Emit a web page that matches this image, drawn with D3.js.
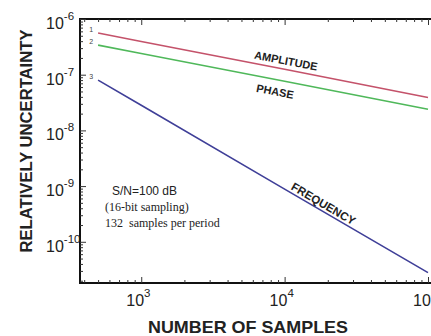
<!DOCTYPE html>
<html>
<head>
<meta charset="utf-8">
<script src="https://cdn.jsdelivr.net/npm/d3@7"></script>
<style>
  body { margin: 0; background: #fff; }
  svg { display: block; }
</style>
</head>
<body>
<svg id="chart" width="431" height="336"></svg>
<script>
// values
const samples = [500, 1000, 10000, 100000]
const amplitude = [5.6e-7, 3.95e-7, 1.25e-7, 3.9e-8]
const phase = [3.4e-7, 2.4e-7, 7.6e-8, 2.4e-8]
const frequency = [8.0e-8, 2.83e-8, 8.8e-10, 2.8e-11]
const xTickExp = [3, 4, 5]
const yTickExp = [-6, -7, -8, -9, -10]

const svg = d3.select('#chart')

const xMin = 374, yMin = Math.pow(10, -10.74)
const x = d3.scaleLog().domain([xMin, 1e5]).range([80, 428])
const y = d3.scaleLog().domain([1e-6, yMin]).range([19, 283])

const sans = 'Liberation Sans, Arial, sans-serif'
const serif = 'Liberation Serif, Times New Roman, serif'

// frame (right side runs just past the window)
svg.append('rect')
    .attr('x', 80).attr('y', 19)
    .attr('width', 353).attr('height', 264)
    .attr('fill', 'none').attr('stroke', '#111').attr('stroke-width', 2)

// minor/major ticks, pointing inwards
let xTicks = []
for (let e = 2; e <= 5; e++) {
    for (let m = 1; m < 10; m++) {
        let v = m * Math.pow(10, e)
        if (v >= xMin && v <= 1e5) xTicks.push(v)
    }
}
let yTicks = []
for (let e = -12; e <= -6; e++) {
    for (let m = 1; m < 10; m++) {
        let v = m * Math.pow(10, e)
        if (v >= yMin && v <= 1e-6) yTicks.push(v)
    }
}
const isMajor = (v) => Math.abs(Math.log10(v) - Math.round(Math.log10(v))) < 1e-6

svg.append('g')
    .attr('transform', 'translate(0,283)')
    .call(d3.axisBottom(x).tickValues(xTicks).tickSizeOuter(0).tickFormat(''))
    .call(g => g.select('.domain').remove())
    .call(g => g.selectAll('.tick line').attr('y2', d => isMajor(d) ? -6 : -3).attr('stroke', '#333'))
svg.append('g')
    .attr('transform', 'translate(0,19)')
    .call(d3.axisTop(x).tickValues(xTicks).tickSizeOuter(0).tickFormat(''))
    .call(g => g.select('.domain').remove())
    .call(g => g.selectAll('.tick line').attr('y2', d => isMajor(d) ? 6 : 3).attr('stroke', '#333'))
svg.append('g')
    .attr('transform', 'translate(80,0)')
    .call(d3.axisLeft(y).tickValues(yTicks).tickSizeOuter(0).tickFormat(''))
    .call(g => g.select('.domain').remove())
    .call(g => g.selectAll('.tick line').attr('x2', d => isMajor(d) ? 6 : 3).attr('stroke', '#333'))

// tick labels with superscripts
const tl = svg.append('g').attr('font-family', sans).attr('fill', '#222')
xTickExp.forEach(e => {
    let t = tl.append('text')
        .attr('x', x(Math.pow(10, e)) - 15).attr('y', 306)
        .attr('font-size', 16)
    t.append('tspan').text('10')
    t.append('tspan').attr('dy', -9).attr('font-size', 11.5).text(e)
})
yTickExp.forEach(e => {
    let t = tl.append('text')
        .attr('x', 46).attr('y', y(Math.pow(10, e)) + 10)
        .attr('font-size', 16)
    t.append('tspan').text('10')
    t.append('tspan').attr('dy', -9).attr('font-size', 11.5).text(e)
})

// axis titles
svg.append('text')
    .attr('x', 248).attr('y', 333)
    .attr('text-anchor', 'middle')
    .attr('font-family', sans)
    .attr('font-weight', 'bold').attr('font-size', 17).attr('fill', '#222')
    .attr('textLength', 200).attr('lengthAdjust', 'spacingAndGlyphs')
    .text('NUMBER OF SAMPLES')
svg.append('text')
    .attr('transform', 'translate(32,141) rotate(-90)')
    .attr('text-anchor', 'middle')
    .attr('font-family', sans)
    .attr('font-weight', 'bold').attr('font-size', 16.5).attr('fill', '#222')
    .attr('textLength', 223).attr('lengthAdjust', 'spacingAndGlyphs')
    .text('RELATIVELY UNCERTAINTY')

// series
const series = [
    { name: 'AMPLITUDE', num: '1', values: amplitude, color: '#c4526a' },
    { name: 'PHASE', num: '2', values: phase, color: '#4fb85a' },
    { name: 'FREQUENCY', num: '3', values: frequency, color: '#3f3f98' }
]
const line = d3.line().x(d => x(d[0])).y(d => y(d[1]))

series.forEach(s => {
    svg.append('path')
        .datum(samples.map((n, i) => [n, s.values[i]]))
        .attr('d', line)
        .attr('fill', 'none')
        .attr('stroke', s.color)
        .attr('stroke-width', 1.6)
    svg.append('text')
        .attr('x', x(samples[0]) - 5).attr('y', y(s.values[0]) - 1)
        .attr('text-anchor', 'end')
        .attr('font-family', sans)
        .attr('font-size', 7).attr('fill', '#444')
        .text(s.num)
})

// line labels, placed along each line
const lineLabel = (txt, n, v, dy, fs) => {
    let s = series.find(d => d.name === txt)
    let a0 = [x(samples[0]), y(s.values[0])], a1 = [x(samples[3]), y(s.values[3])]
    let ang = Math.atan2(a1[1] - a0[1], a1[0] - a0[0]) * 180 / Math.PI
    svg.append('text')
        .attr('transform', `translate(${x(n)},${y(v)}) rotate(${ang}) translate(0,${dy})`)
        .attr('font-family', sans).attr('font-weight', 'bold')
        .attr('font-size', fs).attr('fill', '#222')
        .text(txt)
}
lineLabel('AMPLITUDE', 6000, 1.6e-7, -5, 11)
lineLabel('PHASE', 6600, 9.5e-8, 16, 11)
lineLabel('FREQUENCY', 10500, 7.4e-10, -5, 11.5)

// annotation
const note = svg.append('g').attr('fill', '#222')
note.append('text')
    .attr('x', 112).attr('y', 195)
    .attr('font-family', sans)
    .attr('font-size', 12)
    .text('S/N=100 dB')
note.append('text')
    .attr('x', 105).attr('y', 211)
    .attr('font-family', serif)
    .attr('font-size', 12)
    .text('(16-bit sampling)')
note.append('text')
    .attr('x', 105).attr('y', 227)
    .attr('font-family', serif)
    .attr('font-size', 12)
    .attr('xml:space', 'preserve')
    .text('132  samples per period')
</script>
</body>
</html>
